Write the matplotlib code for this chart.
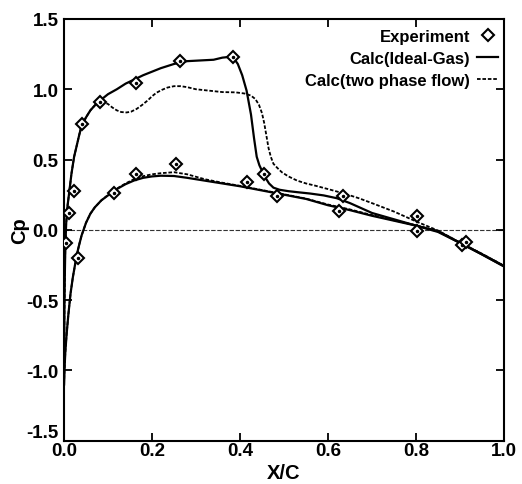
import matplotlib
matplotlib.use("Agg")
import matplotlib.pyplot as plt
from matplotlib.ticker import FormatStrFormatter

plt.rcParams['font.family'] = ['Liberation Sans', 'DejaVu Sans']
plt.rcParams['font.weight'] = 'bold'

# Experiment points
exp_x = [0.004, 0.011, 0.023, 0.042, 0.082, 0.163, 0.264, 0.385,
         0.032, 0.113, 0.163, 0.255, 0.415, 0.455, 0.485, 0.633, 0.625,
         0.803, 0.803, 0.904, 0.914]
exp_y = [-0.094, 0.118, 0.277, 0.75, 0.91, 1.048, 1.20, 1.23,
         -0.20, 0.265, 0.397, 0.466, 0.343, 0.395, 0.244, 0.244, 0.137,
         0.095, -0.011, -0.106, -0.083]

# Ideal gas, upper surface
ig_up_x = [0.0, 0.0005, 0.001, 0.002, 0.003, 0.005, 0.008, 0.012, 0.017, 0.023,
           0.029, 0.035, 0.04, 0.05, 0.06, 0.07, 0.082, 0.1, 0.12, 0.14,
           0.16, 0.18, 0.2, 0.22, 0.25, 0.28, 0.31, 0.34, 0.36, 0.375,
           0.385, 0.395, 0.405, 0.415, 0.425, 0.432, 0.438, 0.444, 0.45, 0.458,
           0.466, 0.476, 0.49, 0.51, 0.53, 0.56, 0.59, 0.62, 0.65, 0.70,
           0.75, 0.80, 0.85, 0.90, 0.95, 1.0]
ig_up_y = [-1.1, -0.8, -0.55, -0.3, -0.12, 0.05, 0.17, 0.27, 0.40, 0.52,
           0.60, 0.68, 0.74, 0.80, 0.85, 0.885, 0.92, 0.965, 1.0, 1.04,
           1.07, 1.10, 1.125, 1.15, 1.18, 1.20, 1.205, 1.21, 1.225, 1.23,
           1.225, 1.18, 1.10, 0.99, 0.82, 0.65, 0.52, 0.46, 0.42, 0.37,
           0.33, 0.30, 0.285, 0.275, 0.268, 0.258, 0.245, 0.225, 0.19, 0.12,
           0.075, 0.03, -0.015, -0.093, -0.175, -0.26]

# Ideal gas, lower surface
ig_lo_x = [0.0, 0.001, 0.003, 0.006, 0.01, 0.015, 0.02, 0.025, 0.03, 0.035,
           0.04, 0.05, 0.06, 0.07, 0.085, 0.1, 0.12, 0.14, 0.16, 0.18,
           0.2, 0.22, 0.25, 0.28, 0.32, 0.36, 0.4, 0.45, 0.5, 0.55,
           0.6, 0.65, 0.7, 0.75, 0.8, 0.85, 0.9, 0.95, 1.0]
ig_lo_y = [-1.1, -1.0, -0.87, -0.74, -0.6, -0.45, -0.34, -0.25, -0.165, -0.1,
           -0.04, 0.05, 0.115, 0.16, 0.21, 0.245, 0.29, 0.325, 0.352, 0.37,
           0.38, 0.385, 0.383, 0.37, 0.35, 0.33, 0.31, 0.28, 0.25, 0.22,
           0.175, 0.14, 0.10, 0.065, 0.03, -0.01, -0.093, -0.175, -0.26]

# Two phase flow, upper surface
tp_up_x = [0.0, 0.0005, 0.001, 0.002, 0.003, 0.005, 0.008, 0.012, 0.017, 0.023,
           0.029, 0.035, 0.04, 0.05, 0.06, 0.07, 0.082, 0.09, 0.1, 0.11,
           0.12, 0.13, 0.142, 0.152, 0.165, 0.177, 0.19, 0.2, 0.21, 0.222,
           0.235, 0.25, 0.265, 0.28, 0.3, 0.33, 0.36, 0.39, 0.41, 0.425,
           0.435, 0.443, 0.45, 0.455, 0.46, 0.465, 0.47, 0.476, 0.485, 0.495,
           0.51, 0.53, 0.55, 0.57, 0.6, 0.635, 0.67, 0.70, 0.75, 0.80,
           0.85, 0.90, 0.95, 1.0]
tp_up_y = [-1.1, -0.8, -0.55, -0.3, -0.12, 0.05, 0.17, 0.27, 0.40, 0.52,
           0.60, 0.68, 0.74, 0.80, 0.85, 0.885, 0.915, 0.91, 0.895, 0.87,
           0.85, 0.838, 0.835, 0.84, 0.86, 0.887, 0.92, 0.95, 0.975, 0.995,
           1.012, 1.022, 1.022, 1.015, 1.0, 0.99, 0.98, 0.978, 0.97, 0.955,
           0.93, 0.89, 0.83, 0.76, 0.67, 0.58, 0.52, 0.47, 0.44, 0.41,
           0.38, 0.35, 0.33, 0.315, 0.29, 0.26, 0.225, 0.19, 0.13, 0.06,
           -0.005, -0.09, -0.17, -0.255]

# Two phase flow, lower surface
tp_lo_x = [0.0, 0.001, 0.003, 0.006, 0.01, 0.015, 0.02, 0.025, 0.03, 0.035,
           0.04, 0.05, 0.06, 0.07, 0.085, 0.1, 0.12, 0.14, 0.16, 0.18,
           0.2, 0.22, 0.25, 0.28, 0.32, 0.36, 0.4, 0.45, 0.5, 0.55,
           0.6, 0.65, 0.7, 0.75, 0.8, 0.85, 0.9, 0.95, 1.0]
tp_lo_y = [-1.1, -1.0, -0.87, -0.74, -0.6, -0.45, -0.34, -0.25, -0.165, -0.1,
           -0.04, 0.05, 0.115, 0.16, 0.21, 0.248, 0.293, 0.33, 0.362, 0.382,
           0.395, 0.403, 0.41, 0.395, 0.36, 0.335, 0.313, 0.283, 0.253, 0.222,
           0.18, 0.145, 0.105, 0.068, 0.032, -0.008, -0.09, -0.172, -0.255]

x_ticks = [0.0, 0.2, 0.4, 0.6, 0.8, 1.0]
y_ticks = [-1.5, -1.0, -0.5, 0.0, 0.5, 1.0, 1.5]

fig = plt.figure(figsize=(5.22, 4.85), dpi=100)
ax = fig.add_axes([0.1226, 0.0893, 0.8429, 0.8695])

ax.axhline(0.0, color='#333333', lw=0.8, ls=(0, (4, 1.5)), zorder=1)

ax.plot(ig_up_x, ig_up_y, color='black', lw=1.6, label='Calc(Ideal-Gas)',
        zorder=3, solid_joinstyle='round')
ax.plot(ig_lo_x, ig_lo_y, color='black', lw=1.6, zorder=3, solid_joinstyle='round')
ax.plot(tp_up_x, tp_up_y, color='black', lw=1.3, ls=(0, (2, 1)),
        label='Calc(two phase flow)', zorder=3)
ax.plot(tp_lo_x, tp_lo_y, color='black', lw=1.3, ls=(0, (2, 1)), zorder=3)

ax.plot(exp_x, exp_y, ls='none', marker='D', ms=6, mfc='white',
        mec='black', mew=1.5, label='Experiment', zorder=4)
ax.plot(exp_x, exp_y, ls='none', marker='o', ms=1.5, color='black', zorder=5)

ax.set_xlim(0, 1)
ax.set_ylim(-1.5, 1.5)
ax.set_xticks(x_ticks)
ax.set_yticks(y_ticks)
ax.xaxis.set_major_formatter(FormatStrFormatter('%.1f'))
ax.yaxis.set_major_formatter(FormatStrFormatter('%.1f'))
ax.tick_params(direction='in', top=True, right=True, length=6, width=1.3,
               labelsize=13.5)
ax.tick_params(axis='x', pad=1)
ax.tick_params(axis='y', pad=4)
for s in ax.spines.values():
    s.set_linewidth(1.5)
ax.get_yticklabels()[0].set_verticalalignment('bottom')

ax.set_xlabel('X/C', fontsize=14.5, fontweight='bold', labelpad=3)
ax.set_ylabel('Cp', fontsize=14.5, fontweight='bold', labelpad=-2)

handles, labels = ax.get_legend_handles_labels()
order = [labels.index('Experiment'), labels.index('Calc(Ideal-Gas)'),
         labels.index('Calc(two phase flow)')]
leg = ax.legend([handles[i] for i in order], [labels[i] for i in order],
                loc='upper right', bbox_to_anchor=(0.995, 0.985),
                markerfirst=False, frameon=False, fontsize=12,
                handlelength=1.3, handletextpad=0.4, labelspacing=0.42,
                numpoints=1, borderaxespad=0.0, borderpad=0.2)

fig.savefig('out.png', dpi=100)
